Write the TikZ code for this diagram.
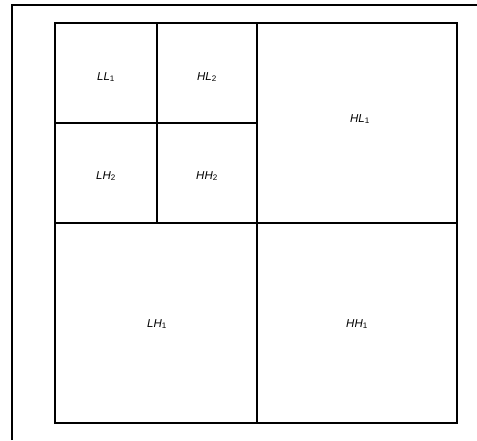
\documentclass[tikz,border=0pt]{standalone}
\usepackage{fontspec}
\setmainfont{Liberation Sans}
\usetikzlibrary{positioning}

\tikzset{band/.style={font=\fontsize{11.5}{13}\selectfont\itshape}}
\newcommand{\lvl}[1]{\textsubscript{\upshape #1}}

\begin{document}
\begin{tikzpicture}[x=1pt,y=-1pt]

    \useasboundingbox (0,0) rectangle (477,440);

    % Frame
    \draw[line width=1.2pt] (12,440) -- (12,5) -- (477,5);

    % Outer square
    \draw[line width=1.4pt] (55,23) rectangle (457,423);
    \draw[line width=1.4pt] (257,23) -- (257,423);
    \draw[line width=1.4pt] (55,223) -- (457,223);

    % Second level
    \draw[line width=1.4pt] (157,23) -- (157,223);
    \draw[line width=1.4pt] (55,123) -- (257,123);

    % Labels
    \node[band] (ll2) at (106,77) {LL\lvl{1}};
    \node[band] (hl2) at (207,77) {HL\lvl{2}};
    \node[band] (lh2) at (106,176) {LH\lvl{2}};
    \node[band] (hh2) at (207,176) {HH\lvl{2}};
    \node[band] (hl1) at (360,119) {HL\lvl{1}};
    \node[band] (lh1) at (157,324) {LH\lvl{1}};
    \node[band] (hh1) at (357,324) {HH\lvl{1}};

\end{tikzpicture}
\end{document}
